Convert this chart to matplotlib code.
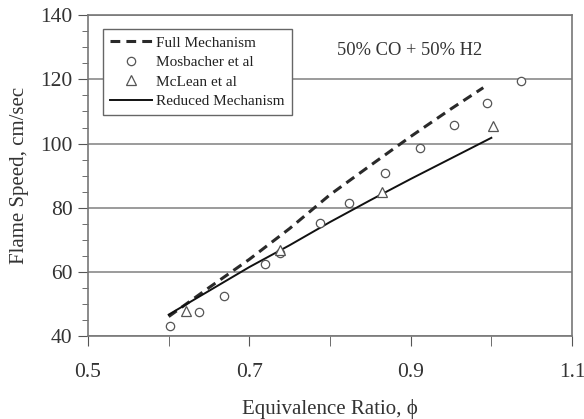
import matplotlib
matplotlib.use("Agg")
import matplotlib.pyplot as plt
from matplotlib.ticker import MultipleLocator, FixedLocator

plt.rcParams['font.family'] = ['Liberation Serif', 'DejaVu Serif']

# full mechanism (dashed)
full_phi = [0.60, 0.65, 0.70, 0.75, 0.80, 0.85, 0.90, 0.95, 0.99]
full_s = [46.2, 55.2, 64.0, 73.6, 84.1, 93.2, 102.2, 110.8, 117.4]

# reduced mechanism (solid)
red_phi = [0.60, 0.65, 0.70, 0.75, 0.80, 0.85, 0.90, 0.95, 1.00]
red_s = [46.8, 54.2, 61.6, 68.4, 75.6, 82.4, 89.0, 95.4, 101.8]

# Mosbacher et al (circles)
mos_phi = [0.602, 0.637, 0.668, 0.719, 0.738, 0.787, 0.824, 0.868, 0.911, 0.954, 0.995, 1.037]
mos_s = [43.4, 47.5, 52.7, 62.6, 66.1, 75.2, 81.4, 90.9, 98.5, 105.8, 112.5, 119.6]

# McLean et al (triangles)
mcl_phi = [0.621, 0.738, 0.865, 1.002]
mcl_s = [48.0, 66.9, 85.0, 105.6]

x_labeled = [0.5, 0.7, 0.9, 1.1]
x_unlabeled = [0.6, 0.8, 1.0]

fig = plt.figure(figsize=(5.84, 4.19), dpi=100)
ax = fig.add_axes([0.1507, 0.1969, 0.8288, 0.7673])

ax.plot(full_phi, full_s, ls=(0, (3.2, 2.0)), color='#2a2a2a', lw=2.2, label='Full Mechanism', zorder=3)
ax.plot(mos_phi, mos_s, ls='none', marker='o', ms=6, mfc='white', mec='#555555', mew=0.9,
        label='Mosbacher et al', zorder=4)
ax.plot(mcl_phi, mcl_s, ls='none', marker='^', ms=7, mfc='white', mec='#555555', mew=0.9,
        label='McLean et al', zorder=4)
ax.plot(red_phi, red_s, ls='-', color='#111111', lw=1.4, label='Reduced Mechanism', zorder=3)

ax.set_xlim(0.5, 1.1)
ax.set_ylim(40, 140)
ax.xaxis.set_major_locator(FixedLocator(x_labeled))
ax.xaxis.set_minor_locator(FixedLocator(x_unlabeled))
ax.set_xticklabels(['%g' % v for v in x_labeled])
ax.yaxis.set_major_locator(MultipleLocator(20))
ax.yaxis.set_minor_locator(MultipleLocator(5))

ax.tick_params(axis='both', which='both', direction='out', color='#555555', labelcolor='#333333',
               labelsize=15.5)
ax.tick_params(axis='x', which='both', length=7, pad=12)
ax.tick_params(axis='y', which='major', length=7, pad=4)
ax.tick_params(axis='y', which='minor', length=4)

ax.grid(axis='y', which='major', color='#8a8a8a', lw=1.2)
ax.set_axisbelow(True)
for s in ax.spines.values():
    s.set_color('#777777')
    s.set_linewidth(1.2)

ax.set_xlabel('Equivalence Ratio, ϕ', fontsize=15, color='#333333', labelpad=12)
ax.set_ylabel('Flame Speed, cm/sec', fontsize=15, color='#333333', labelpad=8)

ax.text(0.899, 129.1, '50% CO + 50% H2', fontsize=13.3, color='#333333', ha='center', va='center')

leg = ax.legend(loc='upper left', bbox_to_anchor=(0.031, 0.956), borderaxespad=0, fontsize=11,
                frameon=True, fancybox=False, edgecolor='#666666', framealpha=1,
                handlelength=2.75, borderpad=0.45, labelspacing=0.38, handletextpad=0.3)
leg.get_frame().set_linewidth(1.0)
for t in leg.get_texts():
    t.set_color('#222222')

fig.savefig('out.png', dpi=100)
